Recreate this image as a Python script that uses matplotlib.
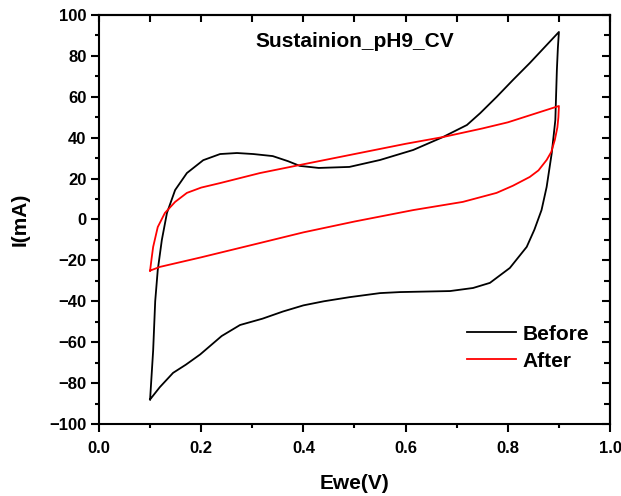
import matplotlib
matplotlib.use("Agg")
import matplotlib.pyplot as plt

plt.rcParams['font.family'] = ['Liberation Sans', 'DejaVu Sans']
plt.rcParams['font.weight'] = 'bold'

# Before: forward scan then reverse scan
before_x = [0.1, 0.102, 0.106, 0.11, 0.115, 0.123, 0.133, 0.149, 0.172, 0.204, 0.237,
            0.27, 0.302, 0.34, 0.37, 0.393, 0.43, 0.49, 0.55, 0.615, 0.673, 0.72, 0.746,
            0.778, 0.81, 0.843, 0.9,
            0.898, 0.896, 0.893, 0.886, 0.876, 0.866, 0.852, 0.837, 0.804, 0.765, 0.732,
            0.687, 0.589, 0.55, 0.49, 0.44, 0.4, 0.36, 0.32, 0.276, 0.24, 0.198, 0.17,
            0.145, 0.119, 0.1]
before_y = [-88, -80, -64, -40, -24.7, -10, 3.2, 14.4, 22.7, 29, 32,
            32.5, 32, 31, 28.5, 26.2, 25.2, 25.7, 29.1, 34, 40.3, 46.2, 52,
            59.9, 68.2, 76.5, 91.7,
            84, 73, 48.6, 32.5, 15.9, 4.6, -5, -13.4, -23.7, -31, -33.5,
            -35, -35.5, -36, -38, -40, -42, -45, -48.5, -51.6, -57, -66, -71,
            -75, -82, -88]

# After: forward scan then reverse scan
after_x = [0.1, 0.103, 0.106, 0.115, 0.129, 0.149, 0.172, 0.2, 0.237, 0.315,
           0.4, 0.5, 0.6, 0.673, 0.75, 0.8, 0.9,
           0.9, 0.899, 0.897, 0.892, 0.885, 0.876, 0.86, 0.843, 0.81, 0.778, 0.712, 0.615,
           0.5, 0.4, 0.315, 0.2, 0.119, 0.1]
after_y = [-25, -19, -13.4, -3.7, 3.2, 8.6, 13, 15.6, 17.8, 22.7,
           27, 32, 37, 40.3, 44.5, 47.5, 55.5,
           55.5, 50, 45, 38.9, 33, 29.1, 24, 20.8, 16.5, 13, 8.6, 4.6,
           -1, -6.3, -11.5, -18.5, -23.2, -25]

fig = plt.figure(figsize=(6.21, 4.96), dpi=100)
ax = fig.add_axes([0.1594, 0.1452, 0.8229, 0.8246])

ax.plot(before_x, before_y, color='black', linewidth=1.3, label='Before', solid_joinstyle='round')
ax.plot(after_x, after_y, color='red', linewidth=1.3, label='After', solid_joinstyle='round')

ax.set_xlim(0, 1.0)
ax.set_ylim(-100, 100)
ax.set_xticks([0.0, 0.2, 0.4, 0.6, 0.8, 1.0])
ax.set_xticks([0.1, 0.3, 0.5, 0.7, 0.9], minor=True)
ax.set_yticks(range(-100, 101, 20))
ax.set_yticks(range(-90, 100, 20), minor=True)
ax.set_xticklabels(['0.0', '0.2', '0.4', '0.6', '0.8', '1.0'])

for s in ax.spines.values():
    s.set_linewidth(1.5)

ax.tick_params(which='major', direction='out', length=6, width=1.5, labelsize=12, pad=3)
ax.tick_params(which='minor', direction='out', length=3, width=1.5)
ax.tick_params(axis='x', which='major', pad=6)

# inward ticks on top and right, no labels
top = ax.secondary_xaxis('top')
top.set_xticks([0.0, 0.2, 0.4, 0.6, 0.8, 1.0])
top.set_xticks([0.1, 0.3, 0.5, 0.7, 0.9], minor=True)
top.tick_params(which='both', direction='in', length=5, width=1.5, labeltop=False)
top.spines['top'].set_linewidth(1.5)
right = ax.secondary_yaxis('right')
right.set_yticks(range(-100, 101, 20))
right.set_yticks(range(-90, 100, 20), minor=True)
right.tick_params(which='major', direction='in', length=6, width=1.5, labelright=False)
right.tick_params(which='minor', direction='in', length=4, width=1.5)
right.spines['right'].set_linewidth(1.5)

ax.set_xlabel('Ewe(V)', fontsize=15, fontweight='bold', labelpad=13)
ax.set_ylabel('I(mA)', fontsize=15, fontweight='bold', labelpad=14)

ax.text(0.5, 0.934, 'Sustainion_pH9_CV', transform=ax.transAxes, ha='center', va='center',
        fontsize=15, fontweight='bold')

ax.legend(loc='upper left', bbox_to_anchor=(0.72, 0.243), frameon=False, fontsize=15,
          handlelength=2.35, handletextpad=0.33, labelspacing=0.39, borderpad=0,
          borderaxespad=0)

fig.savefig('out.png', dpi=100)
